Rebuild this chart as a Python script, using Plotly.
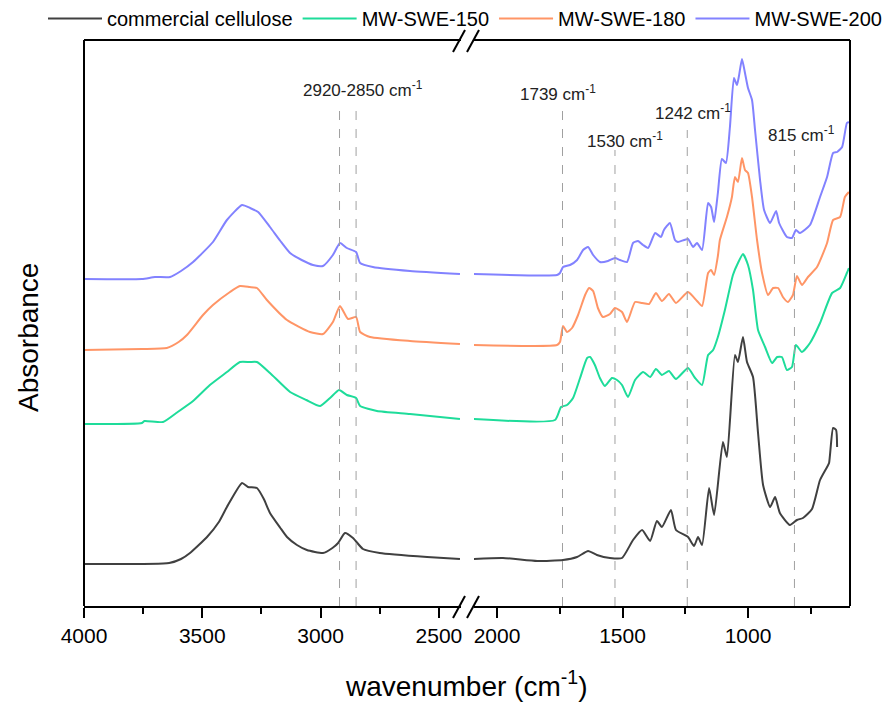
import plotly.graph_objects as go

# ---------------- data (wavenumber in cm-1, absorbance in arbitrary offset units) ----------------
series_names = ["commercial cellulose", "MW-SWE-150", "MW-SWE-180", "MW-SWE-200"]
series_colors = ["#404040", "#1EDC9A", "#FF9566", "#8282FF"]

# left panel (4000 - 2400 cm-1)
cell_wn_L = [4000, 3640, 3590, 3552, 3480, 3430, 3396, 3332, 3307, 3269, 3240, 3214, 3170, 3142, 3100, 3058, 2990, 2950, 2926, 2897, 2863, 2821, 2750, 2550, 2411]
cell_ab_L = [0.42, 0.43, 0.47, 0.53, 0.69, 0.84, 0.99, 1.23, 1.19, 1.18, 1.07, 0.93, 0.78, 0.69, 0.61, 0.56, 0.53, 0.58, 0.63, 0.73, 0.68, 0.57, 0.53, 0.49, 0.47]

s150_wn_L = [4000, 3755, 3745, 3666, 3610, 3539, 3468, 3396, 3341, 3300, 3269, 3214, 3129, 3060, 3002, 2960, 2922, 2889, 2850, 2833, 2762, 2622, 2411]
s150_ab_L = [1.82, 1.83, 1.85, 1.84, 1.93, 2.05, 2.21, 2.34, 2.44, 2.44, 2.44, 2.33, 2.14, 2.06, 2.00, 2.08, 2.16, 2.11, 2.08, 2.00, 1.95, 1.92, 1.87]

s180_wn_L = [4000, 3755, 3650, 3600, 3565, 3497, 3455, 3383, 3341, 3300, 3269, 3227, 3142, 3045, 2990, 2948, 2918, 2884, 2850, 2833, 2791, 2622, 2411]
s180_ab_L = [2.56, 2.57, 2.58, 2.64, 2.71, 2.91, 3.01, 3.14, 3.20, 3.19, 3.18, 3.06, 2.86, 2.74, 2.72, 2.84, 3.00, 2.87, 2.89, 2.74, 2.69, 2.65, 2.62]

s200_wn_L = [4000, 3755, 3700, 3636, 3590, 3539, 3455, 3396, 3332, 3298, 3264, 3214, 3170, 3129, 3080, 3032, 2990, 2948, 2918, 2889, 2850, 2833, 2779, 2622, 2411]
s200_ab_L = [3.27, 3.27, 3.29, 3.29, 3.35, 3.44, 3.64, 3.86, 4.01, 3.98, 3.94, 3.79, 3.65, 3.53, 3.46, 3.41, 3.40, 3.51, 3.63, 3.58, 3.54, 3.43, 3.39, 3.35, 3.32]

# right panel (2100 - 600 cm-1)
cell_wn_R = [2096, 1976, 1840, 1737, 1681, 1637, 1602, 1550, 1502, 1458, 1422, 1390, 1363, 1343, 1307, 1287, 1239, 1215, 1199, 1183,
             1155, 1135, 1100, 1084, 1052, 1040, 1020, 1004, 980, 960, 940, 912, 892, 873, 833, 805, 781, 745, 713, 685, 677, 661, 649, 645]
cell_ab_R = [0.47, 0.48, 0.45, 0.46, 0.49, 0.55, 0.51, 0.48, 0.48, 0.66, 0.76, 0.65, 0.85, 0.79, 0.96, 0.76, 0.69, 0.60, 0.69, 0.61,
             1.18, 0.91, 1.64, 1.49, 2.51, 2.44, 2.69, 2.44, 2.29, 1.73, 1.21, 0.99, 1.09, 0.93, 0.81, 0.86, 0.88, 0.97, 1.26, 1.39, 1.43, 1.78, 1.76, 1.59]

s150_wn_R = [2096, 1769, 1745, 1721, 1697, 1669, 1641, 1629, 1610, 1590, 1570, 1542, 1522, 1502, 1478, 1450, 1418, 1390, 1367, 1343,
             1315, 1287, 1239, 1211, 1183, 1159, 1139, 1120, 1092, 1060, 1040, 1020, 1000, 980, 960, 932, 904, 884, 865, 845,
             825, 809, 785, 753, 713, 665, 633, 606, 598]
s150_ab_R = [1.87, 1.86, 1.99, 2.01, 2.08, 2.28, 2.48, 2.49, 2.41, 2.28, 2.20, 2.28, 2.26, 2.21, 2.09, 2.26, 2.34, 2.29, 2.37, 2.31,
             2.35, 2.27, 2.38, 2.28, 2.21, 2.51, 2.56, 2.69, 2.96, 3.31, 3.43, 3.52, 3.41, 3.16, 2.76, 2.59, 2.43, 2.49, 2.49, 2.36,
             2.39, 2.61, 2.54, 2.63, 2.83, 3.13, 3.18, 3.33, 3.38]

s180_wn_R = [2096, 1761, 1749, 1737, 1721, 1701, 1677, 1649, 1633, 1617, 1598, 1578, 1550, 1530, 1502, 1482, 1450, 1422, 1394, 1367,
             1343, 1315, 1287, 1239, 1203, 1183, 1159, 1147, 1135, 1120, 1112, 1084, 1064, 1052, 1040, 1024, 1012, 1000, 984, 964,
             944, 920, 900, 880, 861, 841, 821, 805, 785, 761, 725, 685, 661, 633, 614, 598]
s180_ab_R = [2.61, 2.61, 2.64, 2.80, 2.74, 2.78, 2.91, 3.11, 3.18, 3.15, 2.98, 2.89, 2.92, 2.98, 2.94, 2.84, 3.04, 3.03, 3.02, 3.13,
             3.05, 3.12, 3.03, 3.14, 3.05, 3.00, 3.33, 3.36, 3.31, 3.50, 3.66, 3.89, 4.09, 4.29, 4.24, 4.48, 4.36, 4.33, 4.09, 3.66,
             3.33, 3.11, 3.18, 3.18, 3.09, 3.04, 3.11, 3.30, 3.21, 3.29, 3.39, 3.63, 3.86, 3.89, 4.09, 4.14]

s200_wn_R = [2096, 1761, 1749, 1737, 1709, 1681, 1657, 1637, 1617, 1590, 1558, 1530, 1510, 1482, 1458, 1438, 1418, 1398, 1370, 1347,
             1335, 1311, 1291, 1279, 1239, 1219, 1203, 1183, 1159, 1147, 1135, 1120, 1104, 1088, 1072, 1056, 1044, 1036, 1024, 1012,
             1000, 984, 972, 952, 936, 912, 888, 876, 845, 825, 809, 793, 753, 713, 685, 661, 645, 625, 606, 598]
s200_ab_R = [3.32, 3.31, 3.33, 3.39, 3.41, 3.46, 3.56, 3.59, 3.51, 3.44, 3.45, 3.48, 3.46, 3.44, 3.63, 3.65, 3.61, 3.58, 3.73, 3.69,
             3.76, 3.83, 3.66, 3.64, 3.67, 3.59, 3.63, 3.56, 4.03, 3.99, 3.84, 4.13, 4.47, 4.43, 4.79, 5.28, 5.21, 5.30, 5.47, 5.33,
             5.18, 5.06, 4.76, 4.26, 3.96, 3.83, 3.95, 3.83, 3.69, 3.68, 3.76, 3.73, 3.81, 4.09, 4.29, 4.53, 4.54, 4.59, 4.83, 4.84]

# marked bands
band_left_wn = [2920, 2850]
band_right_wn = [1739, 1530, 1242, 815]
band_labels = ["2920-2850 cm<sup>-1</sup>", "1739 cm<sup>-1</sup>", "1530 cm<sup>-1</sup>", "1242 cm<sup>-1</sup>", "815 cm<sup>-1</sup>"]

left_ticks = [4000, 3500, 3000, 2500]
right_ticks = [2000, 1500, 1000]

# ---------------- figure ----------------
FONT = "Liberation Sans, Arial, sans-serif"
W, H = 882, 704
ML, MR, MT, MB = 84, 32, 40, 98
PW, PH = W - ML - MR, H - MT - MB

def px_x(p):
    return (p - ML) / PW

def px_y(p):
    return (H - MB - p) / PH

L_END, R_START = px_x(461), px_x(474)

fig = go.Figure()
left_sets = [(cell_wn_L, cell_ab_L), (s150_wn_L, s150_ab_L), (s180_wn_L, s180_ab_L), (s200_wn_L, s200_ab_L)]
right_sets = [(cell_wn_R, cell_ab_R), (s150_wn_R, s150_ab_R), (s180_wn_R, s180_ab_R), (s200_wn_R, s200_ab_R)]
for i, name in enumerate(series_names):
    fig.add_trace(go.Scatter(x=left_sets[i][0], y=left_sets[i][1], mode="lines", name=name,
                             line=dict(color=series_colors[i], width=2, shape="spline", smoothing=0.5),
                             legendgroup=name, showlegend=True, xaxis="x", yaxis="y"))
    fig.add_trace(go.Scatter(x=right_sets[i][0], y=right_sets[i][1], mode="lines", name=name,
                             line=dict(color=series_colors[i], width=2, shape="spline", smoothing=0.5),
                             legendgroup=name, showlegend=False, xaxis="x2", yaxis="y"))

axis_common = dict(showline=True, linecolor="black", linewidth=2, mirror=False, ticks="outside",
                   ticklen=10, tickwidth=2, tickcolor="black", showgrid=False, zeroline=False,
                   tickfont=dict(family=FONT, size=21, color="black"),
                   minor=dict(ticks="outside", ticklen=6, tickwidth=2, tickcolor="black", showgrid=False))

fig.update_layout(
    width=W, height=H,
    margin=dict(l=ML, r=MR, t=MT, b=MB, autoexpand=False),
    plot_bgcolor="white", paper_bgcolor="white",
    xaxis=dict(domain=[0, L_END], range=[4000, 4000 - (461 - 84) / 0.2366], tickvals=left_ticks,
               minor_dtick=250, **axis_common),
    xaxis2=dict(domain=[R_START, 1], range=[2000 + (497 - 474) / 0.251, 2000 - (850 - 497) / 0.251],
                tickvals=right_ticks, minor_dtick=250, anchor="y", **axis_common),
    yaxis=dict(range=[0, PH / 100], showticklabels=False, ticks="", showgrid=False, zeroline=False,
               showline=False),
    legend=dict(orientation="h", x=px_x(43), xanchor="left", y=px_y(38), yanchor="bottom",
                font=dict(family=FONT, size=20, color="black"), bgcolor="rgba(255,255,255,0)",
                itemwidth=54, tracegroupgap=0),
    showlegend=True,
)

shapes = []
# frame: left, right, top (top broken like the bottom axis)
shapes.append(dict(type="line", xref="paper", yref="paper", x0=0, x1=0, y0=0, y1=1,
                   line=dict(color="black", width=2)))
shapes.append(dict(type="line", xref="paper", yref="paper", x0=1, x1=1, y0=0, y1=1,
                   line=dict(color="black", width=2)))
shapes.append(dict(type="line", xref="paper", yref="paper", x0=0, x1=L_END, y0=1, y1=1,
                   line=dict(color="black", width=2)))
shapes.append(dict(type="line", xref="paper", yref="paper", x0=R_START, x1=1, y0=1, y1=1,
                   line=dict(color="black", width=2)))
# break marks (bottom and top)
for yb in (0, 1):
    for x0p in (453, 467):
        shapes.append(dict(type="line", xref="paper", yref="paper",
                           x0=px_x(x0p), x1=px_x(x0p + 12), y0=yb - 12 / PH, y1=yb + 10 / PH,
                           line=dict(color="black", width=2)))
# dashed band markers
band_tops = [103, 103, 107, 150, 130, 150]
for j, wn in enumerate(band_left_wn):
    shapes.append(dict(type="line", xref="x", yref="paper", x0=wn, x1=wn, y0=0, y1=px_y(band_tops[j]),
                       line=dict(color="#a0a0a0", width=1, dash="dash")))
for j, wn in enumerate(band_right_wn):
    shapes.append(dict(type="line", xref="x2", yref="paper", x0=wn, x1=wn, y0=0, y1=px_y(band_tops[j + 2]),
                       line=dict(color="#a0a0a0", width=1, dash="dash")))
fig.update_layout(shapes=shapes)

ann = []
label_pos = [("x", 2821, 89), ("x2", 1757, 93), ("x2", 1490, 140), ("x2", 1219, 112), ("x2", 785, 134)]
for (xr, xv, yp), txt in zip(label_pos, band_labels):
    ann.append(dict(xref=xr, yref="paper", x=xv, y=px_y(yp), text=txt, showarrow=False,
                    xanchor="center", yanchor="middle", font=dict(family=FONT, size=17, color="#222")))
ann.append(dict(xref="paper", yref="paper", x=px_x(466), y=px_y(684), text="wavenumber (cm<sup>-1</sup>)",
                showarrow=False, xanchor="center", yanchor="middle", font=dict(family=FONT, size=28, color="black")))
ann.append(dict(xref="paper", yref="paper", x=px_x(28), y=px_y(338), text="Absorbance", textangle=-90,
                showarrow=False, xanchor="center", yanchor="middle", font=dict(family=FONT, size=28, color="black")))
fig.update_layout(annotations=ann)

fig.write_html("out.html")
